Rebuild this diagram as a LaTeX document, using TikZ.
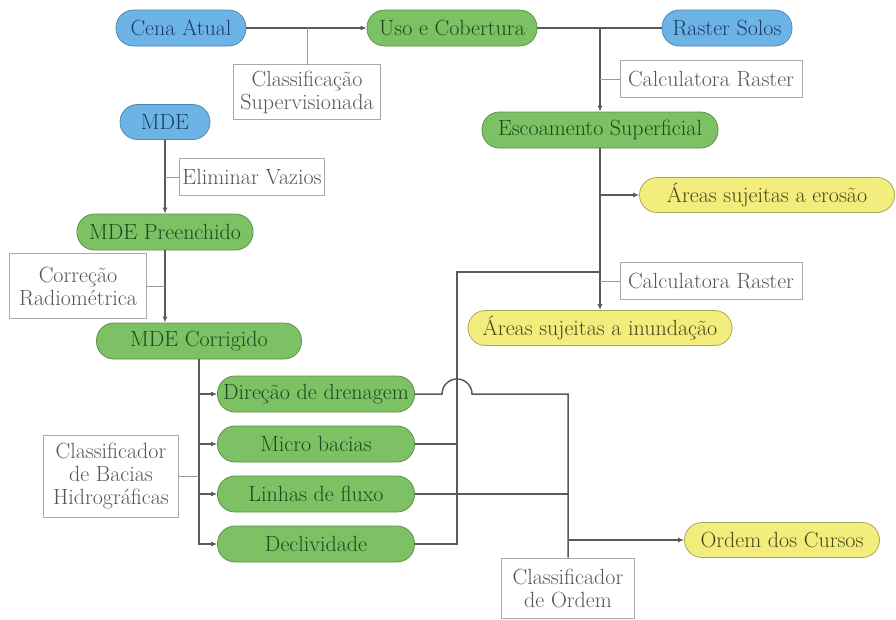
\documentclass[tikz,border=0pt]{standalone}
\usepackage{fontspec}
\usetikzlibrary{arrows.meta,positioning,calc}

\definecolor{bluefill}{HTML}{6CB4E6}
\definecolor{bluetext}{HTML}{1F3B66}
\definecolor{greenfill}{HTML}{7CC163}
\definecolor{greentext}{HTML}{1C4A1C}
\definecolor{yellowfill}{HTML}{F2EE7E}
\definecolor{yellowtext}{HTML}{4A4616}
\definecolor{lbltext}{HTML}{555555}
\definecolor{lblline}{HTML}{AAAAAA}
\definecolor{lnkcol}{HTML}{5A5A5A}
\definecolor{tckcol}{HTML}{9A9A9A}

\begin{document}
\begin{tikzpicture}[
  x=1pt, y=1pt,
  font=\fontsize{22}{23}\selectfont,
  >=Latex,
  pill/.style={rounded corners=17.5pt, minimum height=36pt, inner sep=2pt, line width=0.8pt},
  blu/.style={pill, fill=bluefill, draw=bluefill!75!black, text=bluetext},
  grn/.style={pill, fill=greenfill, draw=greenfill!75!black, text=greentext},
  yel/.style={pill, fill=yellowfill, draw=yellowfill!70!black, text=yellowtext},
  lbl/.style={draw=lblline, fill=white, text=lbltext, align=center, inner sep=3pt, line width=0.6pt},
  lnk/.style={draw=lnkcol, line width=1.5pt},
  arr/.style={lnk, -{Latex[length=6pt,width=5pt]}},
  tck/.style={draw=tckcol, line width=0.9pt}
]
\useasboundingbox (0,0) rectangle (896,-619);

% Linha de cima --- uso do solo e escoamento
\node[blu, minimum width=130pt] (cena) at (181,-28) {Cena Atual};
\node[grn, minimum width=170pt] (uso) at (452,-28) {Uso e Cobertura};
\node[blu, minimum width=130pt] (solos) at (727,-28) {Raster Solos};
\node[lbl, minimum width=147pt, minimum height=55pt] (clsup) at (307,-92) {Classificação\\Supervisionada};
\node[lbl, minimum width=182pt, minimum height=37pt] (calc1) at (711,-79) {Calculatora Raster};
\node[grn, minimum width=236pt] (escoa) at (600,-130) {Escoamento Superficial};
\node[yel, minimum width=255pt, minimum height=35pt] (erosao) at (767,-195) {Áreas sujeitas a erosão};
\node[lbl, minimum width=182pt, minimum height=37pt] (calc2) at (711,-281) {Calculatora Raster};
\node[yel, minimum width=264pt, minimum height=35pt] (inund) at (600,-328) {Áreas sujeitas a inundação};

% Coluna da esquerda --- MDE
\node[blu, minimum width=90pt, minimum height=35pt] (mde) at (165,-122) {MDE};
\node[lbl, minimum width=135pt, minimum height=37pt] (elim) at (252,-177) {Eliminar Vazios};
\node[grn, minimum width=176pt] (mdepre) at (165,-232) {MDE Preenchido};
\node[lbl, minimum width=137pt, minimum height=65pt] (corr) at (78,-286) {Correção\\Radiométrica};
\node[grn, minimum width=205pt] (mdecor) at (199,-341) {MDE Corrigido};

% Produtos hidrológicos
\node[grn, minimum width=197pt] (dren) at (316,-394) {Direção de drenagem};
\node[grn, minimum width=197pt] (micro) at (316,-444) {Micro bacias};
\node[grn, minimum width=197pt] (linhas) at (316,-494) {Linhas de fluxo};
\node[grn, minimum width=197pt] (decl) at (316,-544) {Declividade};
\node[lbl, minimum width=135pt, minimum height=82pt] (bacias) at (111,-476) {Classificador\\de Bacias\\Hidrográficas};
\node[yel, minimum width=195pt, minimum height=35pt] (ordem) at (782,-540) {Ordem dos Cursos};
\node[lbl, minimum width=133pt, minimum height=60pt] (ordcls) at (568,-588) {Classificador\\de Ordem};
\coordinate (jn) at (457,-272);

% Ligações de cima
\draw[arr] (cena) -- (uso);
\draw[tck] (clsup.north) -- (clsup.north |- cena.east);
\draw[lnk] (uso) -- (solos);
\draw[arr] (escoa.north |- uso.east) -- (escoa.north);
\draw[tck] (calc1.west) -- (calc1.west -| escoa.north);
\draw[arr] (escoa) -- (inund);
\draw[arr] (erosao.west -| escoa.south) -- (erosao.west);
\draw[tck] (calc2.west) -- (calc2.west -| escoa.south);

% Ligações do MDE
\draw[arr] (mde) -- (mdepre);
\draw[tck] (elim.west) -- (elim.west -| mde.south);
\draw[arr] (mdepre.south) -- (mdepre.south |- mdecor.north);
\draw[tck] (corr.east) -- (corr.east -| mdepre.south);
\draw[arr] (mdecor.south) |- (decl.west);
\foreach \n in {dren,micro,linhas}
  \draw[arr] (\n.west -| mdecor.south) -- (\n.west);
\draw[tck] (bacias.east) -- (bacias.east -| mdecor.south);

% Saídas à direita
\draw[lnk] (decl.east) -| (jn) -- (jn -| inund.north);
\draw[lnk] (micro.east) -- (micro.east -| jn);
\draw[lnk] (dren.east) -- ($(dren.east -| jn)+(-15,0)$) arc[start angle=180, end angle=0, radius=15] -| (ordcls.north);
\draw[lnk] (linhas.east) -- (linhas.east -| ordcls.north);
\draw[arr] (ordcls.north |- ordem.west) -- (ordem.west);
\end{tikzpicture}
\end{document}
